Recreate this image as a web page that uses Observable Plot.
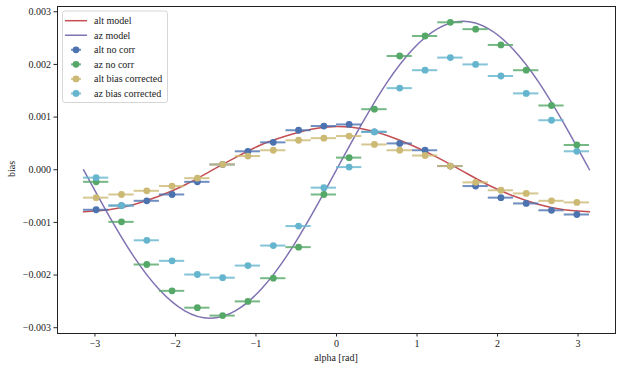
<!DOCTYPE html>
<html>
<head>
<meta charset="utf-8">
<script src="https://cdn.jsdelivr.net/npm/d3@7"></script>
<script src="https://cdn.jsdelivr.net/npm/@observablehq/plot@0.6"></script>
<style>
  html, body { margin: 0; padding: 0; background: #fff; }
  #chart { width: 622px; height: 370px; }
  #chart svg, #chart svg text { font-family: "Liberation Serif", "DejaVu Serif", serif !important; }
</style>
</head>
<body>
<div id="chart"></div>
<script>
// ---- data ----
const binCenters = [-2.985, -2.670, -2.356, -2.042, -1.728, -1.414, -1.100, -0.785, -0.471, -0.157,
                     0.157,  0.471,  0.785,  1.100,  1.414,  1.728,  2.042,  2.356,  2.670,  2.985];
const binHalfWidth = 0.157;

const altNoCorr = [-0.00076, -0.00068, -0.00059, -0.00047, -0.00023, 0.00010, 0.00035, 0.00052, 0.00075, 0.00083,
                    0.00086,  0.00072,  0.00050,  0.00037,  0.00007, -0.00031, -0.00053, -0.00064, -0.00077, -0.00085];
const azNoCorr = [-0.00023, -0.00099, -0.00180, -0.00230, -0.00262, -0.00277, -0.00250, -0.00206, -0.00147, -0.00047,
                   0.00023,  0.00115,  0.00216,  0.00254,  0.00280,  0.00267,  0.00237,  0.00189,  0.00122,  0.00047];
const altCorrected = [-0.00053, -0.00047, -0.00040, -0.00031, -0.00016, 0.00010, 0.00026, 0.00037, 0.00056, 0.00060,
                       0.00064,  0.00048,  0.00037,  0.00027,  0.00007, -0.00024, -0.00039, -0.00045, -0.00059, -0.00062];
const azCorrected = [-0.00015, -0.00068, -0.00134, -0.00173, -0.00199, -0.00205, -0.00182, -0.00144, -0.00107, -0.00034,
                      0.00005,  0.00072,  0.00155,  0.00189,  0.00213,  0.00200,  0.00178,  0.00145,  0.00094,  0.00035];

const modelAlpha = [-3.1416, -2.827, -2.513, -2.199, -1.885, -1.571, -1.257, -0.942, -0.628, -0.314, 0,
                     0.314,  0.628,  0.942,  1.257,  1.571,  1.885,  2.199,  2.513,  2.827,  3.1416];
const altModel = [-0.00080, -0.00076, -0.00066, -0.00050, -0.00029, -0.00003, 0.00023, 0.00047, 0.00064, 0.00077, 0.00082,
                   0.00078,  0.00065,  0.00046,  0.00023, -0.00003, -0.00029, -0.00050, -0.00066, -0.00076, -0.00080];
const azModel = [0, -0.00087, -0.00166, -0.00228, -0.00268, -0.00282, -0.00268, -0.00228, -0.00166, -0.00087, 0,
                 0.00087,  0.00166,  0.00228,  0.00268,  0.00282,  0.00268,  0.00228,  0.00166,  0.00087, 0];

const xTicks = [-3, -2, -1, 0, 1, 2, 3];
const yTicks = [-0.003, -0.002, -0.001, 0, 0.001, 0.002, 0.003];

const modelNames = ["alt model", "az model"];
const modelColors = ["#C44E52", "#8172B2"];
const seriesNames = ["alt no corr", "az no corr", "alt bias corrected", "az bias corrected"];
const seriesColors = ["#4C72B0", "#55A868", "#CCB974", "#64B5CD"];

// ---- build tables ----
const models = [altModel, azModel].map((vals, i) =>
  modelAlpha.map((a, j) => ({alpha: a, bias: vals[j], name: modelNames[i]})));
const series = [altNoCorr, azNoCorr, altCorrected, azCorrected].map((vals, i) =>
  binCenters.map((a, j) => ({alpha: a, lo: a - binHalfWidth, hi: a + binHalfWidth, bias: vals[j], name: seriesNames[i]})));

const FONT = '"Liberation Serif", "DejaVu Serif", serif';

const marks = [
  Plot.frame({stroke: "#222", strokeWidth: 1}),
  Plot.axisX({ticks: xTicks, tickSize: 3.5, tickPadding: 3, label: null, tickFormat: d => d3.format("d")(d), stroke: "#222"}),
  Plot.axisY({ticks: yTicks, tickSize: 3.5, tickPadding: 3, label: null, tickFormat: d => d3.format(".3f")(d), stroke: "#222"}),
];
models.forEach((m, i) => {
  marks.push(Plot.line(m, {x: "alpha", y: "bias", stroke: modelColors[i], strokeWidth: 1.5, curve: "natural"}));
});
series.forEach((s, i) => {
  marks.push(Plot.ruleY(s, {y: "bias", x1: "lo", x2: "hi", stroke: seriesColors[i], strokeWidth: 2, strokeOpacity: 0.8}));
  marks.push(Plot.dot(s, {x: "alpha", y: "bias", r: 3.4, fill: seriesColors[i], stroke: "none"}));
});

const plot = Plot.plot({
  width: 622,
  height: 370,
  marginLeft: 57,
  marginRight: 7,
  marginTop: 6,
  marginBottom: 37,
  style: {fontFamily: FONT, fontSize: "10px", background: "#fff", color: "#222"},
  x: {domain: [-3.465, 3.465]},
  y: {domain: [-0.00311, 0.0031]},
  marks
});
document.getElementById("chart").appendChild(plot);

// ---- axis titles and legend ----
const svg = d3.select(plot);
svg.append("text").attr("x", 336).attr("y", 361).attr("text-anchor", "middle")
  .attr("font-size", 10).attr("fill", "#222").text("alpha [rad]");
svg.append("text").attr("transform", "translate(15,169) rotate(-90)").attr("text-anchor", "middle")
  .attr("font-size", 10).attr("fill", "#222").text("bias");

const lg = svg.append("g").attr("text-anchor", "start");
lg.append("rect").attr("x", 62.5).attr("y", 11).attr("width", 105).attr("height", 91.5).attr("rx", 2.5)
  .attr("fill", "#fff").attr("fill-opacity", 0.8).attr("stroke", "#ccc").attr("stroke-width", 0.8);
const items = modelNames.map((n, i) => ({name: n, color: modelColors[i], kind: "line"}))
  .concat(seriesNames.map((n, i) => ({name: n, color: seriesColors[i], kind: "dot"})));
items.forEach((it, i) => {
  const y = 20.7 + i * 14.55;
  if (it.kind === "line") {
    lg.append("line").attr("x1", 65).attr("x2", 87).attr("y1", y).attr("y2", y)
      .attr("stroke", it.color).attr("stroke-width", 1.5);
  } else {
    lg.append("line").attr("x1", 71).attr("x2", 81).attr("y1", y).attr("y2", y)
      .attr("stroke", it.color).attr("stroke-width", 2).attr("stroke-opacity", 0.8);
    lg.append("circle").attr("cx", 76).attr("cy", y).attr("r", 3.4).attr("fill", it.color);
  }
  lg.append("text").attr("x", 94).attr("y", y).attr("dy", "0.35em").attr("text-anchor", "start")
    .attr("font-size", 10).attr("fill", "#222").text(it.name);
});
</script>
</body>
</html>
